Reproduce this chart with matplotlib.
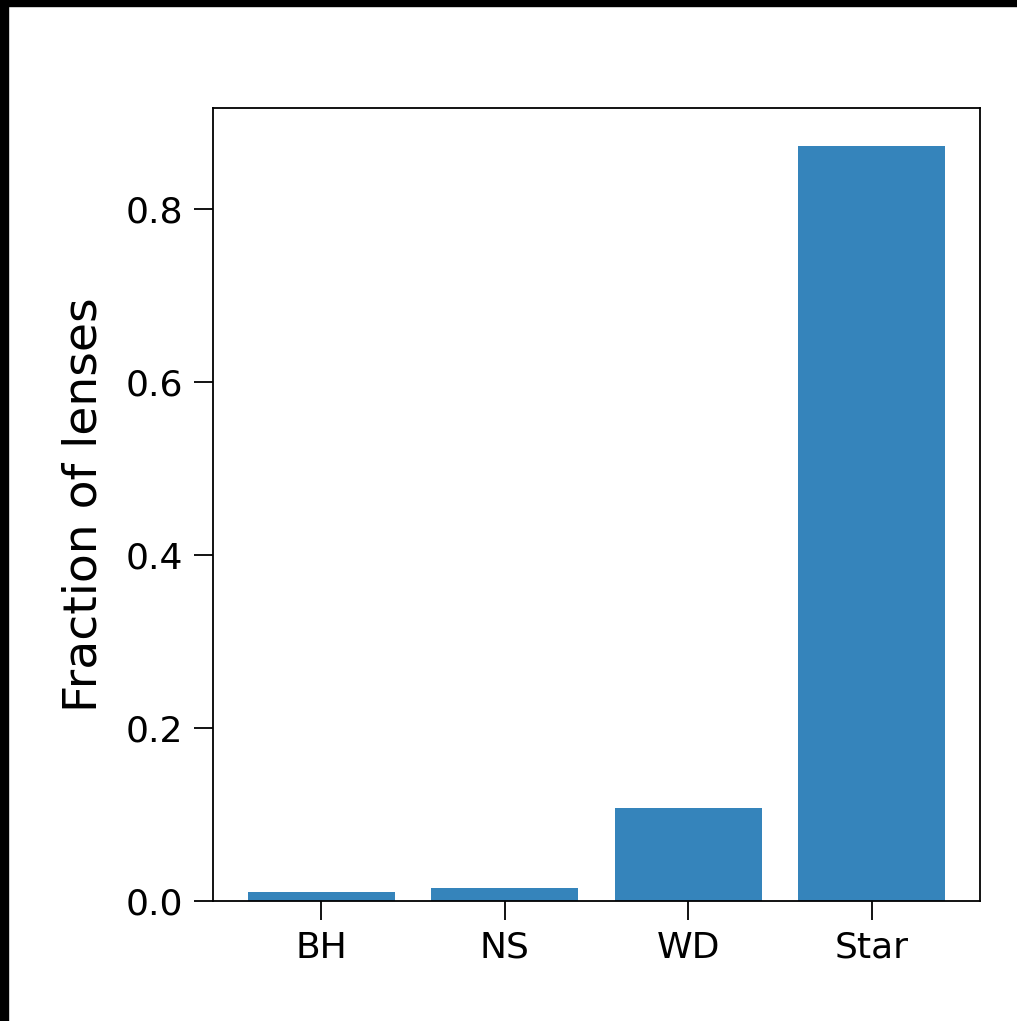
import matplotlib

matplotlib.use("Agg")

import matplotlib.pyplot as plt
from matplotlib.patches import Rectangle

# Fraction of microlensing lenses by object type
lens_types = ["BH", "NS", "WD", "Star"]
lens_fractions = [0.0108, 0.0147, 0.1075, 0.873]

W, H = 1017, 1021
fig = plt.figure(figsize=(W / 100, H / 100), dpi=100)
ax = fig.add_axes([213 / W, 1 - 901 / H, (980 - 213) / W, (901 - 108) / H])

ax.bar(lens_types, lens_fractions, color="#1f77b4", alpha=0.9, width=0.8)

ax.set_ylabel("Fraction of lenses", fontsize=34, labelpad=14)
ax.tick_params(axis="both", labelsize=26, length=13.5, width=1.3, pad=8)
for spine in ax.spines.values():
    spine.set_linewidth(1.3)

# dark frame along the top and left edges
fig.patches.append(Rectangle((0, 1 - 6 / H), 1, 6 / H, transform=fig.transFigure,
                             color="black", zorder=10))
fig.patches.append(Rectangle((0, 0), 8 / W, 1, transform=fig.transFigure,
                             color="black", zorder=10))

fig.savefig("out.png", dpi=100)
